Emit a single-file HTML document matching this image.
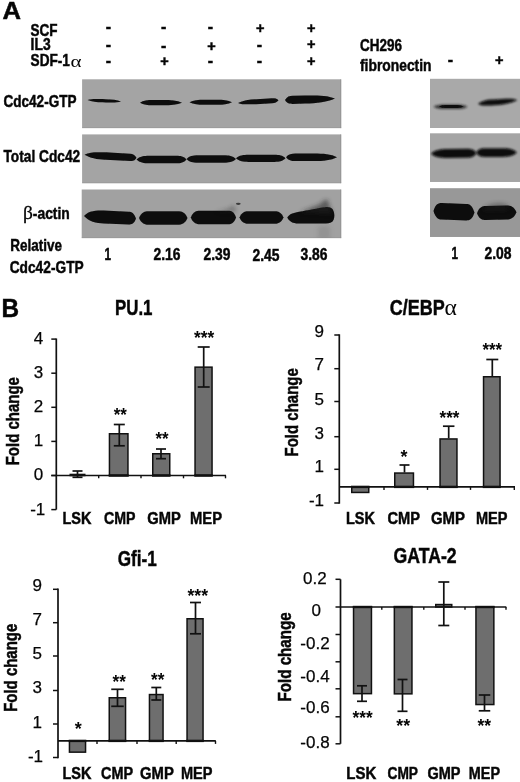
<!DOCTYPE html>
<html lang="en"><head><meta charset="utf-8"><title>Figure</title>
<style>html,body{margin:0;padding:0;background:#fff}svg{display:block}text{font-family:"Liberation Sans","DejaVu Sans",sans-serif;fill:#050505}</style></head>
<body>
<svg width="520" height="782" viewBox="0 0 520 782">
<rect width="520" height="782" fill="#fff"/>
<text x="2.5" y="19.2" font-size="24.6" font-weight="bold" stroke="#0d0d0d" stroke-width="0.5" textLength="18.5" lengthAdjust="spacingAndGlyphs" >A</text>
<text x="30.6" y="35.6" font-size="16.5" font-weight="bold" stroke="#0d0d0d" stroke-width="0.5" textLength="27" lengthAdjust="spacingAndGlyphs" >SCF</text>
<text x="30.6" y="50.4" font-size="16.5" font-weight="bold" stroke="#0d0d0d" stroke-width="0.5" textLength="20" lengthAdjust="spacingAndGlyphs" >IL3</text>
<text x="30.6" y="65.7" font-size="16.5" font-weight="bold" stroke="#0d0d0d" stroke-width="0.5" textLength="39.3" lengthAdjust="spacingAndGlyphs" >SDF-1</text>
<text transform="translate(70.6,67.1) scale(1.2,1)" style="font-family:&quot;Liberation Serif&quot;,&quot;DejaVu Serif&quot;,serif" font-size="17.5">α</text>
<text x="108.5" y="31.6" font-size="16" font-weight="bold" stroke="#0d0d0d" stroke-width="0.5" text-anchor="middle" >-</text>
<text x="163.7" y="32.2" font-size="16" font-weight="bold" stroke="#0d0d0d" stroke-width="0.5" text-anchor="middle" >-</text>
<text x="210.3" y="31.6" font-size="16" font-weight="bold" stroke="#0d0d0d" stroke-width="0.5" text-anchor="middle" >-</text>
<text x="260.2" y="32.9" font-size="14.5" font-weight="bold" stroke="#0d0d0d" stroke-width="0.5" text-anchor="middle" >+</text>
<text x="311.2" y="32.9" font-size="14.5" font-weight="bold" stroke="#0d0d0d" stroke-width="0.5" text-anchor="middle" >+</text>
<text x="108.5" y="49.8" font-size="16" font-weight="bold" stroke="#0d0d0d" stroke-width="0.5" text-anchor="middle" >-</text>
<text x="163.7" y="50.7" font-size="16" font-weight="bold" stroke="#0d0d0d" stroke-width="0.5" text-anchor="middle" >-</text>
<text x="211.4" y="50.5" font-size="14.5" font-weight="bold" stroke="#0d0d0d" stroke-width="0.5" text-anchor="middle" >+</text>
<text x="259.5" y="49.8" font-size="16" font-weight="bold" stroke="#0d0d0d" stroke-width="0.5" text-anchor="middle" >-</text>
<text x="311.2" y="49.0" font-size="14.5" font-weight="bold" stroke="#0d0d0d" stroke-width="0.5" text-anchor="middle" >+</text>
<text x="108.5" y="65.7" font-size="16" font-weight="bold" stroke="#0d0d0d" stroke-width="0.5" text-anchor="middle" >-</text>
<text x="164.4" y="66.0" font-size="14.5" font-weight="bold" stroke="#0d0d0d" stroke-width="0.5" text-anchor="middle" >+</text>
<text x="210.3" y="65.7" font-size="16" font-weight="bold" stroke="#0d0d0d" stroke-width="0.5" text-anchor="middle" >-</text>
<text x="259.5" y="65.7" font-size="16" font-weight="bold" stroke="#0d0d0d" stroke-width="0.5" text-anchor="middle" >-</text>
<text x="311.2" y="65.5" font-size="14.5" font-weight="bold" stroke="#0d0d0d" stroke-width="0.5" text-anchor="middle" >+</text>
<text x="360" y="51" font-size="16.5" font-weight="bold" stroke="#0d0d0d" stroke-width="0.5" textLength="42" lengthAdjust="spacingAndGlyphs" >CH296</text>
<text x="360" y="70.5" font-size="16.5" font-weight="bold" stroke="#0d0d0d" stroke-width="0.5" textLength="71.5" lengthAdjust="spacingAndGlyphs" >fibronectin</text>
<text x="450.3" y="64.9" font-size="16" font-weight="bold" stroke="#0d0d0d" stroke-width="0.5" text-anchor="middle" >-</text>
<text x="499.2" y="65.0" font-size="14.5" font-weight="bold" stroke="#0d0d0d" stroke-width="0.5" text-anchor="middle" >+</text>
<defs>
<clipPath id="c0"><rect x="82.1" y="79.3" width="259.1" height="48.8"/></clipPath>
<clipPath id="c1"><rect x="82.1" y="134.4" width="259.1" height="48.8"/></clipPath>
<clipPath id="c2"><rect x="81.7" y="189.5" width="259.5" height="48.6"/></clipPath>
<clipPath id="c3"><rect x="430" y="78.8" width="90" height="49"/></clipPath>
<clipPath id="c4"><rect x="430" y="133.3" width="90" height="48.5"/></clipPath>
<clipPath id="c5"><rect x="430" y="188.2" width="90" height="48.7"/></clipPath>
<filter id="b0" x="-20%" y="-100%" width="140%" height="300%"><feGaussianBlur stdDeviation="0.6"/></filter>
<filter id="b1" x="-20%" y="-100%" width="140%" height="300%"><feGaussianBlur stdDeviation="0.9"/></filter>
<filter id="b2" x="-20%" y="-100%" width="140%" height="300%"><feGaussianBlur stdDeviation="1.3"/></filter>
<filter id="b3" x="-20%" y="-100%" width="140%" height="300%"><feGaussianBlur stdDeviation="2.2"/></filter>
</defs>
<rect x="82.1" y="79.3" width="259.1" height="48.8" fill="#a4a4a4" />
<rect x="340.2" y="79.3" width="1" height="48.8" fill="#8f8f8f" opacity="0.7"/>
<rect x="82.1" y="127.3" width="259.1" height="0.8" fill="#8f8f8f" opacity="0.5"/>
<rect x="82.1" y="134.4" width="259.1" height="48.8" fill="#a4a4a4" />
<rect x="340.2" y="134.4" width="1" height="48.8" fill="#8f8f8f" opacity="0.7"/>
<rect x="82.1" y="182.4" width="259.1" height="0.8" fill="#8f8f8f" opacity="0.5"/>
<rect x="81.7" y="189.5" width="259.5" height="48.6" fill="#a1a1a1" />
<rect x="340.2" y="189.5" width="1" height="48.6" fill="#8f8f8f" opacity="0.7"/>
<rect x="81.7" y="237.3" width="259.5" height="0.8" fill="#8f8f8f" opacity="0.5"/>
<rect x="430" y="78.8" width="90" height="49" fill="#a9a9a9" />
<rect x="430" y="127.0" width="90" height="0.8" fill="#8f8f8f" opacity="0.5"/>
<rect x="430" y="133.3" width="90" height="48.5" fill="#a5a5a5" />
<rect x="430" y="181.0" width="90" height="0.8" fill="#8f8f8f" opacity="0.5"/>
<rect x="430" y="188.2" width="90" height="48.7" fill="#989898" />
<rect x="430" y="236.1" width="90" height="0.8" fill="#8f8f8f" opacity="0.5"/>
<g clip-path="url(#c0)"><path d="M87.5,100.0 C91.3,98.7 96.5,99.1 102.6,99.1 L105.9,99.3 C112.0,99.3 117.2,100.2 121.0,101.5 C117.2,102.9 112.0,102.5 105.9,102.5 L102.6,102.3 C96.5,102.3 91.3,101.4 87.5,100.0Z" fill="#0c0c0c" filter="url(#b0)" opacity="1"/></g>
<g clip-path="url(#c0)"><path d="M140.0,102.7 C143.2,100.5 147.6,100.1 152.6,100.1 L163.1,100.1 C170.7,100.1 177.3,100.5 182.0,102.7 C177.3,104.9 170.7,105.3 163.1,105.3 L152.6,105.3 C147.6,105.3 143.2,104.9 140.0,102.7Z" fill="#0a0a0a" filter="url(#b0)" opacity="1"/></g>
<g clip-path="url(#c0)"><path d="M189.5,102.2 C193.2,100.1 198.4,99.7 204.4,99.7 L217.1,99.7 C223.1,99.7 228.3,100.1 232.0,102.2 C228.3,104.3 223.1,104.7 217.1,104.7 L204.4,104.7 C198.4,104.7 193.2,104.3 189.5,102.2Z" fill="#0a0a0a" filter="url(#b0)" opacity="1"/></g>
<g clip-path="url(#c0)"><path d="M238.0,102.9 C242.6,100.8 248.9,99.2 256.2,99.2 L272.4,98.2 C274.9,98.2 277.0,98.2 278.5,100.3 C277.0,102.4 274.9,103.2 272.4,103.2 L256.2,104.2 C248.9,104.2 242.6,105.0 238.0,102.9Z" fill="#0a0a0a" filter="url(#b0)" opacity="1"/></g>
<g clip-path="url(#c0)"><path d="M285.0,100.0 C286.9,96.6 289.5,95.7 292.5,95.7 L305.0,95.4 C317.0,95.4 327.5,95.1 335.0,98.5 C327.5,102.0 317.0,103.5 305.0,103.5 L292.5,103.9 C289.5,103.9 286.9,103.5 285.0,100.0Z" fill="#0a0a0a" filter="url(#b0)" opacity="1"/></g>
<g clip-path="url(#c1)"><path d="M84.5,154.8 C89.7,151.7 97.0,152.3 105.3,152.3 L130.3,153.7 C132.8,153.7 134.9,154.7 136.5,157.8 C134.9,160.9 132.8,161.1 130.3,161.1 L105.3,159.7 C97.0,159.7 89.7,157.9 84.5,154.8Z" fill="#0a0a0a" filter="url(#b0)" opacity="1"/></g>
<g clip-path="url(#c1)"><path d="M136.5,159.5 C139.6,156.3 144.0,155.7 149.0,155.7 L176.5,155.7 C180.5,155.7 184.0,156.3 186.5,159.5 C184.0,162.7 180.5,163.3 176.5,163.3 L149.0,163.3 C144.0,163.3 139.6,162.7 136.5,159.5Z" fill="#0a0a0a" filter="url(#b0)" opacity="1"/></g>
<g clip-path="url(#c1)"><path d="M186.5,159.0 C189.2,155.9 193.0,155.3 197.4,155.3 L223.6,155.3 C228.6,155.3 232.9,155.9 236.0,159.0 C232.9,162.1 228.6,162.7 223.6,162.7 L197.4,162.7 C193.0,162.7 189.2,162.1 186.5,159.0Z" fill="#0a0a0a" filter="url(#b0)" opacity="1"/></g>
<g clip-path="url(#c1)"><path d="M236.0,158.3 C239.1,155.2 243.4,154.7 248.4,154.7 L274.6,154.7 C279.0,154.7 282.8,155.2 285.5,158.3 C282.8,161.4 279.0,161.9 274.6,161.9 L248.4,161.9 C243.4,161.9 239.1,161.4 236.0,158.3Z" fill="#0a0a0a" filter="url(#b0)" opacity="1"/></g>
<g clip-path="url(#c1)"><path d="M286.0,157.2 C288.3,154.0 291.5,153.4 295.2,153.4 L314.1,153.4 C323.2,153.4 331.3,154.0 337.0,157.2 C331.3,160.4 323.2,161.0 314.1,161.0 L295.2,161.0 C291.5,161.0 288.3,160.4 286.0,157.2Z" fill="#0a0a0a" filter="url(#b0)" opacity="1"/></g>
<g clip-path="url(#c2)"><path d="M84.0,216.1 C88.9,210.6 95.9,210.6 103.8,210.6 L128.7,211.8 C131.6,211.8 134.2,213.1 136.0,218.6 C134.2,224.0 131.6,224.6 128.7,224.6 L103.8,223.4 C95.9,223.4 88.9,221.5 84.0,216.1Z" fill="#0a0a0a" filter="url(#b0)" opacity="1"/></g>
<g clip-path="url(#c2)"><path d="M139.0,218.0 C141.4,212.3 144.8,211.3 148.7,211.3 L177.8,211.3 C181.7,211.3 185.1,212.3 187.5,218.0 C185.1,223.7 181.7,224.7 177.8,224.7 L148.7,224.7 C144.8,224.7 141.4,223.7 139.0,218.0Z" fill="#0a0a0a" filter="url(#b0)" opacity="1"/></g>
<g clip-path="url(#c2)"><path d="M190.8,217.5 C193.1,211.8 196.2,210.8 199.8,210.8 L228.3,210.8 C231.4,210.8 234.1,211.8 236.0,217.5 C234.1,223.2 231.4,224.2 228.3,224.2 L199.8,224.2 C196.2,224.2 193.1,223.2 190.8,217.5Z" fill="#0a0a0a" filter="url(#b0)" opacity="1"/></g>
<g clip-path="url(#c2)"><path d="M239.5,217.5 C241.7,212.3 244.8,211.3 248.3,211.3 L274.7,211.3 C278.2,211.3 281.3,212.3 283.5,217.5 C281.3,222.7 278.2,223.7 274.7,223.7 L248.3,223.7 C244.8,223.7 241.7,222.7 239.5,217.5Z" fill="#0a0a0a" filter="url(#b0)" opacity="1"/></g>
<g clip-path="url(#c2)"><path d="M287.3,217.6 C289,214.5 293,212.8 299,211.8 C308,210.2 318,208 325,207.2 C329,206.8 332,207.6 333.3,210.5 C334.6,213.5 334.8,217 333.6,219.8 C332.6,222.3 330,223.5 326,223.6 L298,223.6 C293,223.6 289,221.5 287.3,217.6Z" fill="#0a0a0a" filter="url(#b0)"/></g>
<g clip-path="url(#c2)" filter="url(#b3)" opacity="0.55"><path d="M300,212 C312,207 322,205 324,200 L328,200 C329,206 331,210 333,214 Z" fill="#222"/></g>
<g clip-path="url(#c2)" filter="url(#b3)" opacity="0.35"><path d="M215,212 C224,210 230,209 234,205 L236,212 Z" fill="#222"/><rect x="318" y="226" width="12" height="14" fill="#7a7a7a"/></g>
<g clip-path="url(#c2)" filter="url(#b0)"><ellipse cx="238.3" cy="203.8" rx="2.4" ry="1.1" fill="#3a3a3a"/></g>
<g clip-path="url(#c3)"><path d="M433.5,106.7 C436.5,104.7 440.6,104.4 445.4,104.4 L455.6,104.4 C460.4,104.4 464.5,104.7 467.5,106.7 C464.5,108.7 460.4,109.0 455.6,109.0 L445.4,109.0 C440.6,109.0 436.5,108.7 433.5,106.7Z" fill="#222" filter="url(#b2)" opacity="0.85"/></g>
<g clip-path="url(#c3)"><path d="M439.0,106.6 C441.1,105.3 444.1,105.1 447.6,105.1 L454.9,105.1 C458.4,105.1 461.4,105.3 463.5,106.6 C461.4,107.9 458.4,108.1 454.9,108.1 L447.6,108.1 C444.1,108.1 441.1,107.9 439.0,106.6Z" fill="#0a0a0a" filter="url(#b0)" opacity="1"/></g>
<g clip-path="url(#c3)"><path d="M478.0,103.8 C481.5,101.3 486.3,99.6 491.8,99.6 L493.8,99.5 C503.3,99.5 511.6,97.7 517.5,100.2 C511.6,102.7 503.3,105.3 493.8,105.3 L491.8,105.4 C486.3,105.4 481.5,106.3 478.0,103.8Z" fill="#0a0a0a" filter="url(#b1)" opacity="1"/></g>
<g clip-path="url(#c4)"><path d="M431.0,153.7 C435.0,149.9 440.6,149.1 446.9,149.1 L467.4,148.8 C471.0,148.8 474.2,149.4 476.5,153.2 C474.2,156.9 471.0,157.7 467.4,157.7 L446.9,157.9 C440.6,157.9 435.0,157.4 431.0,153.7Z" fill="#0a0a0a" filter="url(#b1)" opacity="1"/></g>
<g clip-path="url(#c4)"><path d="M476.0,152.6 C478.1,148.9 480.9,148.2 484.2,148.2 L502.6,148.2 C508.4,148.2 513.4,148.9 517.0,152.6 C513.4,156.3 508.4,157.0 502.6,157.0 L484.2,157.0 C480.9,157.0 478.1,156.3 476.0,152.6Z" fill="#0a0a0a" filter="url(#b1)" opacity="1"/></g>
<g clip-path="url(#c5)"><path d="M433.5,211.1 C435.6,204.0 438.4,203.1 441.7,203.1 L466.3,204.0 C469.6,204.0 472.4,205.5 474.5,212.6 C472.4,219.6 469.6,220.5 466.3,220.5 L441.7,219.6 C438.4,219.6 435.6,218.1 433.5,211.1Z" fill="#0a0a0a" filter="url(#b0)" opacity="1"/></g>
<g clip-path="url(#c5)"><path d="M477.0,213.3 C479.2,207.4 482.2,206.1 485.7,206.1 L506.6,205.6 C510.6,205.6 514.0,206.4 516.5,212.3 C514.0,218.2 510.6,219.6 506.6,219.6 L485.7,220.1 C482.2,220.1 479.2,219.2 477.0,213.3Z" fill="#0a0a0a" filter="url(#b0)" opacity="1"/></g>
<g clip-path="url(#c5)" filter="url(#b3)" opacity="0.4"><path d="M484,208 C490,203 500,202 508,205 L508,210 L484,211 Z" fill="#222"/></g>
<text x="3.5" y="106.7" font-size="17.3" font-weight="bold" stroke="#0d0d0d" stroke-width="0.5" textLength="73" lengthAdjust="spacingAndGlyphs" >Cdc42-GTP</text>
<text x="3.5" y="162.3" font-size="17.3" font-weight="bold" stroke="#0d0d0d" stroke-width="0.5" textLength="76.7" lengthAdjust="spacingAndGlyphs" >Total Cdc42</text>
<text x="22.9" y="219" font-size="17.3" font-weight="bold" stroke="#0d0d0d" stroke-width="0.5"><tspan font-family="'Liberation Serif','DejaVu Serif',serif" font-weight="normal" stroke-width="0.3" font-size="19.5">β</tspan><tspan textLength="37" lengthAdjust="spacingAndGlyphs">-actin</tspan></text>
<text x="10.3" y="251" font-size="17.3" font-weight="bold" stroke="#0d0d0d" stroke-width="0.5" textLength="51.7" lengthAdjust="spacingAndGlyphs" >Relative</text>
<text x="9.7" y="272.5" font-size="17.3" font-weight="bold" stroke="#0d0d0d" stroke-width="0.5" textLength="74" lengthAdjust="spacingAndGlyphs" >Cdc42-GTP</text>
<text x="104.5" y="259.8" font-size="16.6" font-weight="bold" stroke="#0d0d0d" stroke-width="0.5" textLength="6.5" lengthAdjust="spacingAndGlyphs" >1</text>
<text x="153.5" y="259.8" font-size="16.6" font-weight="bold" stroke="#0d0d0d" stroke-width="0.5" textLength="27" lengthAdjust="spacingAndGlyphs" >2.16</text>
<text x="203.5" y="259.8" font-size="16.6" font-weight="bold" stroke="#0d0d0d" stroke-width="0.5" textLength="27" lengthAdjust="spacingAndGlyphs" >2.39</text>
<text x="252.5" y="260.90000000000003" font-size="16.6" font-weight="bold" stroke="#0d0d0d" stroke-width="0.5" textLength="27" lengthAdjust="spacingAndGlyphs" >2.45</text>
<text x="300.5" y="259.8" font-size="16.6" font-weight="bold" stroke="#0d0d0d" stroke-width="0.5" textLength="27" lengthAdjust="spacingAndGlyphs" >3.86</text>
<text x="451.5" y="258.5" font-size="16.6" font-weight="bold" stroke="#0d0d0d" stroke-width="0.5" textLength="6.5" lengthAdjust="spacingAndGlyphs" >1</text>
<text x="484.5" y="258.5" font-size="16.6" font-weight="bold" stroke="#0d0d0d" stroke-width="0.5" textLength="27" lengthAdjust="spacingAndGlyphs" >2.08</text>
<text x="1.4" y="317.1" font-size="26.6" font-weight="bold" stroke="#0d0d0d" stroke-width="0.5" textLength="17.6" lengthAdjust="spacingAndGlyphs" >B</text>
<text x="115" y="315.2" font-size="22" font-weight="bold" stroke="#0d0d0d" stroke-width="0.5" textLength="37.5" lengthAdjust="spacingAndGlyphs" >PU.1</text>
<line x1="56.3" y1="338.5" x2="56.3" y2="509.6" stroke="#111" stroke-width="1.7"/>
<line x1="51.3" y1="339.1" x2="56.3" y2="339.1" stroke="#111" stroke-width="1.5"/>
<text x="43.3" y="344.0" font-size="17" stroke="#0a0a0a" stroke-width="0.25" text-anchor="end" >4</text>
<line x1="51.3" y1="373.2" x2="56.3" y2="373.2" stroke="#111" stroke-width="1.5"/>
<text x="43.3" y="378.1" font-size="17" stroke="#0a0a0a" stroke-width="0.25" text-anchor="end" >3</text>
<line x1="51.3" y1="407.3" x2="56.3" y2="407.3" stroke="#111" stroke-width="1.5"/>
<text x="43.3" y="412.2" font-size="17" stroke="#0a0a0a" stroke-width="0.25" text-anchor="end" >2</text>
<line x1="51.3" y1="441.4" x2="56.3" y2="441.4" stroke="#111" stroke-width="1.5"/>
<text x="43.3" y="446.3" font-size="17" stroke="#0a0a0a" stroke-width="0.25" text-anchor="end" >1</text>
<line x1="51.3" y1="475.5" x2="56.3" y2="475.5" stroke="#111" stroke-width="1.5"/>
<text x="43.3" y="480.4" font-size="17" stroke="#0a0a0a" stroke-width="0.25" text-anchor="end" >0</text>
<line x1="51.3" y1="509.6" x2="56.3" y2="509.6" stroke="#111" stroke-width="1.5"/>
<text x="45.3" y="514.5" font-size="17" stroke="#0a0a0a" stroke-width="0.25" text-anchor="end" >-1</text>
<rect x="70.25" y="474.45" width="14.5" height="1.05" fill="#6e6e6e" stroke="#111" stroke-width="1.5" />
<rect x="109.45" y="433.75" width="18.5" height="41.75" fill="#6e6e6e" stroke="#111" stroke-width="1.5" />
<rect x="108.7" y="474.3" width="20.0" height="2.4" fill="#111" />
<rect x="152.75" y="453.75" width="17.0" height="21.75" fill="#6e6e6e" stroke="#111" stroke-width="1.5" />
<rect x="152" y="474.3" width="18.5" height="2.4" fill="#111" />
<rect x="195.05" y="367.15" width="17.0" height="108.35" fill="#6e6e6e" stroke="#111" stroke-width="1.5" />
<rect x="194.3" y="474.3" width="18.5" height="2.4" fill="#111" />
<line x1="51.3" y1="475.5" x2="226" y2="475.5" stroke="#111" stroke-width="1.7"/>
<line x1="98.7" y1="475.5" x2="98.7" y2="478.3" stroke="#111" stroke-width="1.4"/>
<line x1="141" y1="475.5" x2="141" y2="478.3" stroke="#111" stroke-width="1.4"/>
<line x1="183.5" y1="475.5" x2="183.5" y2="478.3" stroke="#111" stroke-width="1.4"/>
<line x1="225.5" y1="475.5" x2="225.5" y2="478.3" stroke="#111" stroke-width="1.4"/>
<line x1="77.5" y1="471" x2="77.5" y2="477.3" stroke="#111" stroke-width="1.7"/>
<line x1="72.5" y1="471" x2="82.5" y2="471" stroke="#111" stroke-width="1.7"/>
<line x1="72.5" y1="477.3" x2="82.5" y2="477.3" stroke="#111" stroke-width="1.7"/>
<line x1="119.3" y1="424.5" x2="119.3" y2="445.8" stroke="#111" stroke-width="1.7"/>
<line x1="113.8" y1="424.5" x2="124.8" y2="424.5" stroke="#111" stroke-width="1.7"/>
<line x1="113.8" y1="445.8" x2="124.8" y2="445.8" stroke="#111" stroke-width="1.7"/>
<line x1="161" y1="449" x2="161" y2="458.7" stroke="#111" stroke-width="1.7"/>
<line x1="156.0" y1="449" x2="166.0" y2="449" stroke="#111" stroke-width="1.7"/>
<line x1="156.0" y1="458.7" x2="166.0" y2="458.7" stroke="#111" stroke-width="1.7"/>
<line x1="203.7" y1="347" x2="203.7" y2="387" stroke="#111" stroke-width="1.7"/>
<line x1="197.7" y1="347" x2="209.7" y2="347" stroke="#111" stroke-width="1.7"/>
<line x1="197.7" y1="387" x2="209.7" y2="387" stroke="#111" stroke-width="1.7"/>
<text x="113.7" y="421.3" font-size="18.5" font-weight="bold" textLength="13.1" lengthAdjust="spacingAndGlyphs" >**</text>
<text x="155.5" y="444.6" font-size="18.5" font-weight="bold" textLength="13.1" lengthAdjust="spacingAndGlyphs" >**</text>
<text x="194.1" y="344.0" font-size="18.5" font-weight="bold" textLength="20.3" lengthAdjust="spacingAndGlyphs" >***</text>
<text x="62.5" y="524.3" font-size="17.4" font-weight="bold" stroke="#0d0d0d" stroke-width="0.5" textLength="29" lengthAdjust="spacingAndGlyphs" >LSK</text>
<text x="104" y="524.3" font-size="17.4" font-weight="bold" stroke="#0d0d0d" stroke-width="0.5" textLength="31.5" lengthAdjust="spacingAndGlyphs" >CMP</text>
<text x="147.3" y="524.3" font-size="17.4" font-weight="bold" stroke="#0d0d0d" stroke-width="0.5" textLength="33.5" lengthAdjust="spacingAndGlyphs" >GMP</text>
<text x="190" y="524.3" font-size="17.4" font-weight="bold" stroke="#0d0d0d" stroke-width="0.5" textLength="32" lengthAdjust="spacingAndGlyphs" >MEP</text>
<text transform="translate(19.3,421.2) rotate(-90)" text-anchor="middle" font-size="18.3" font-weight="bold" stroke="#0d0d0d" stroke-width="0.5" textLength="88.3" lengthAdjust="spacingAndGlyphs">Fold change</text>
<text x="389.7" y="314.7" font-size="21.8" font-weight="bold" stroke="#0d0d0d" stroke-width="0.5" textLength="55" lengthAdjust="spacingAndGlyphs" >C/EBP</text>
<text transform="translate(444.6,315) scale(0.98,1)" style="font-family:&quot;Liberation Serif&quot;,&quot;DejaVu Serif&quot;,serif" font-size="24">α</text>
<line x1="339.3" y1="334.3" x2="339.3" y2="503.7" stroke="#111" stroke-width="1.7"/>
<line x1="334.3" y1="335" x2="339.3" y2="335" stroke="#111" stroke-width="1.5"/>
<text x="324" y="336.7" font-size="17" stroke="#0a0a0a" stroke-width="0.25" text-anchor="end" >9</text>
<line x1="334.3" y1="368.7" x2="339.3" y2="368.7" stroke="#111" stroke-width="1.5"/>
<text x="324" y="370.2" font-size="17" stroke="#0a0a0a" stroke-width="0.25" text-anchor="end" >7</text>
<line x1="334.3" y1="401.5" x2="339.3" y2="401.5" stroke="#111" stroke-width="1.5"/>
<text x="324" y="404.5" font-size="17" stroke="#0a0a0a" stroke-width="0.25" text-anchor="end" >5</text>
<line x1="334.3" y1="436.7" x2="339.3" y2="436.7" stroke="#111" stroke-width="1.5"/>
<text x="324" y="438.5" font-size="17" stroke="#0a0a0a" stroke-width="0.25" text-anchor="end" >3</text>
<line x1="334.3" y1="469.3" x2="339.3" y2="469.3" stroke="#111" stroke-width="1.5"/>
<text x="324" y="472.2" font-size="17" stroke="#0a0a0a" stroke-width="0.25" text-anchor="end" >1</text>
<line x1="334.3" y1="503" x2="339.3" y2="503" stroke="#111" stroke-width="1.5"/>
<text x="324" y="506.0" font-size="17" stroke="#0a0a0a" stroke-width="0.25" text-anchor="end" >-1</text>
<rect x="351.75" y="486.9" width="17.0" height="5.55" fill="#6e6e6e" stroke="#111" stroke-width="1.5" />
<rect x="351" y="485.7" width="18.5" height="2.4" fill="#111" />
<rect x="394.75" y="473.05" width="18.7" height="13.85" fill="#6e6e6e" stroke="#111" stroke-width="1.5" />
<rect x="394" y="485.7" width="20.2" height="2.4" fill="#111" />
<rect x="440.05" y="438.95" width="16.9" height="47.95" fill="#6e6e6e" stroke="#111" stroke-width="1.5" />
<rect x="439.3" y="485.7" width="18.4" height="2.4" fill="#111" />
<rect x="483.55" y="376.75" width="16.5" height="110.15" fill="#6e6e6e" stroke="#111" stroke-width="1.5" />
<rect x="482.8" y="485.7" width="18.0" height="2.4" fill="#111" />
<line x1="339.3" y1="486.9" x2="515" y2="486.9" stroke="#111" stroke-width="1.7"/>
<line x1="384" y1="486.9" x2="384" y2="489.9" stroke="#111" stroke-width="1.4"/>
<line x1="427.5" y1="486.9" x2="427.5" y2="489.9" stroke="#111" stroke-width="1.4"/>
<line x1="470.5" y1="486.9" x2="470.5" y2="489.9" stroke="#111" stroke-width="1.4"/>
<line x1="514.3" y1="486.9" x2="514.3" y2="489.9" stroke="#111" stroke-width="1.4"/>
<line x1="404.5" y1="465" x2="404.5" y2="472.5" stroke="#111" stroke-width="1.7"/>
<line x1="399.5" y1="465" x2="409.5" y2="465" stroke="#111" stroke-width="1.7"/>
<line x1="448.7" y1="426.2" x2="448.7" y2="438.3" stroke="#111" stroke-width="1.7"/>
<line x1="442.95" y1="426.2" x2="454.45" y2="426.2" stroke="#111" stroke-width="1.7"/>
<line x1="492.3" y1="359.5" x2="492.3" y2="376.3" stroke="#111" stroke-width="1.7"/>
<line x1="486.3" y1="359.5" x2="498.3" y2="359.5" stroke="#111" stroke-width="1.7"/>
<text x="400.6" y="462.8" font-size="18.5" font-weight="bold" textLength="7.0" lengthAdjust="spacingAndGlyphs" >*</text>
<text x="439.5" y="424.3" font-size="18.5" font-weight="bold" textLength="19.9" lengthAdjust="spacingAndGlyphs" >***</text>
<text x="482.5" y="355.8" font-size="18.5" font-weight="bold" textLength="19.6" lengthAdjust="spacingAndGlyphs" >***</text>
<text x="346" y="524" font-size="17.4" font-weight="bold" stroke="#0d0d0d" stroke-width="0.5" textLength="29" lengthAdjust="spacingAndGlyphs" >LSK</text>
<text x="387.5" y="524" font-size="17.4" font-weight="bold" stroke="#0d0d0d" stroke-width="0.5" textLength="32.5" lengthAdjust="spacingAndGlyphs" >CMP</text>
<text x="431" y="524" font-size="17.4" font-weight="bold" stroke="#0d0d0d" stroke-width="0.5" textLength="34" lengthAdjust="spacingAndGlyphs" >GMP</text>
<text x="476" y="524" font-size="17.4" font-weight="bold" stroke="#0d0d0d" stroke-width="0.5" textLength="31.5" lengthAdjust="spacingAndGlyphs" >MEP</text>
<text transform="translate(298.1,412.3) rotate(-90)" text-anchor="middle" font-size="18.3" font-weight="bold" stroke="#0d0d0d" stroke-width="0.5" textLength="88.3" lengthAdjust="spacingAndGlyphs">Fold change</text>
<text x="117.7" y="566.3" font-size="22" font-weight="bold" stroke="#0d0d0d" stroke-width="0.5" textLength="39" lengthAdjust="spacingAndGlyphs" >Gfi-1</text>
<line x1="58" y1="588.6" x2="58" y2="758.2" stroke="#111" stroke-width="1.7"/>
<line x1="53" y1="589.3" x2="58" y2="589.3" stroke="#111" stroke-width="1.5"/>
<text x="42" y="591.2" font-size="17" stroke="#0a0a0a" stroke-width="0.25" text-anchor="end" >9</text>
<line x1="53" y1="622.7" x2="58" y2="622.7" stroke="#111" stroke-width="1.5"/>
<text x="42" y="625.2" font-size="17" stroke="#0a0a0a" stroke-width="0.25" text-anchor="end" >7</text>
<line x1="53" y1="656" x2="58" y2="656" stroke="#111" stroke-width="1.5"/>
<text x="42" y="659.2" font-size="17" stroke="#0a0a0a" stroke-width="0.25" text-anchor="end" >5</text>
<line x1="53" y1="690.5" x2="58" y2="690.5" stroke="#111" stroke-width="1.5"/>
<text x="42" y="693" font-size="17" stroke="#0a0a0a" stroke-width="0.25" text-anchor="end" >3</text>
<line x1="53" y1="724" x2="58" y2="724" stroke="#111" stroke-width="1.5"/>
<text x="42" y="727.7" font-size="17" stroke="#0a0a0a" stroke-width="0.25" text-anchor="end" >1</text>
<line x1="53" y1="757.5" x2="58" y2="757.5" stroke="#111" stroke-width="1.5"/>
<text x="43" y="761.7" font-size="17" stroke="#0a0a0a" stroke-width="0.25" text-anchor="end" >-1</text>
<rect x="69.45" y="740.9" width="16.1" height="11.25" fill="#6e6e6e" stroke="#111" stroke-width="1.5" />
<rect x="68.7" y="739.7" width="17.6" height="2.4" fill="#111" />
<rect x="109.25" y="697.75" width="16.3" height="43.15" fill="#6e6e6e" stroke="#111" stroke-width="1.5" />
<rect x="108.5" y="739.7" width="17.8" height="2.4" fill="#111" />
<rect x="149.45" y="694.55" width="13.6" height="46.35" fill="#6e6e6e" stroke="#111" stroke-width="1.5" />
<rect x="148.7" y="739.7" width="15.1" height="2.4" fill="#111" />
<rect x="187.05" y="618.75" width="16.0" height="122.15" fill="#6e6e6e" stroke="#111" stroke-width="1.5" />
<rect x="186.3" y="739.7" width="17.5" height="2.4" fill="#111" />
<line x1="58" y1="740.9" x2="215.8" y2="740.9" stroke="#111" stroke-width="1.7"/>
<line x1="97" y1="740.9" x2="97" y2="743.9" stroke="#111" stroke-width="1.4"/>
<line x1="137" y1="740.9" x2="137" y2="743.9" stroke="#111" stroke-width="1.4"/>
<line x1="176.2" y1="740.9" x2="176.2" y2="743.9" stroke="#111" stroke-width="1.4"/>
<line x1="215.5" y1="740.9" x2="215.5" y2="743.9" stroke="#111" stroke-width="1.4"/>
<line x1="117.5" y1="689.3" x2="117.5" y2="706.3" stroke="#111" stroke-width="1.7"/>
<line x1="111.25" y1="689.3" x2="123.75" y2="689.3" stroke="#111" stroke-width="1.7"/>
<line x1="111.25" y1="706.3" x2="123.75" y2="706.3" stroke="#111" stroke-width="1.7"/>
<line x1="156.3" y1="687.5" x2="156.3" y2="700" stroke="#111" stroke-width="1.7"/>
<line x1="151.3" y1="687.5" x2="161.3" y2="687.5" stroke="#111" stroke-width="1.7"/>
<line x1="151.3" y1="700" x2="161.3" y2="700" stroke="#111" stroke-width="1.7"/>
<line x1="195.5" y1="602.5" x2="195.5" y2="633.8" stroke="#111" stroke-width="1.7"/>
<line x1="190.0" y1="602.5" x2="201.0" y2="602.5" stroke="#111" stroke-width="1.7"/>
<line x1="190.0" y1="633.8" x2="201.0" y2="633.8" stroke="#111" stroke-width="1.7"/>
<text x="74.8" y="735.1" font-size="18.5" font-weight="bold" textLength="7.0" lengthAdjust="spacingAndGlyphs" >*</text>
<text x="112.5" y="687.5" font-size="18.5" font-weight="bold" textLength="13.3" lengthAdjust="spacingAndGlyphs" >**</text>
<text x="151" y="686.0" font-size="18.5" font-weight="bold" textLength="13.4" lengthAdjust="spacingAndGlyphs" >**</text>
<text x="187.5" y="602.1" font-size="18.5" font-weight="bold" textLength="20.6" lengthAdjust="spacingAndGlyphs" >***</text>
<text x="62.5" y="778.8" font-size="17.4" font-weight="bold" stroke="#0d0d0d" stroke-width="0.5" textLength="29" lengthAdjust="spacingAndGlyphs" >LSK</text>
<text x="101" y="778.8" font-size="17.4" font-weight="bold" stroke="#0d0d0d" stroke-width="0.5" textLength="32" lengthAdjust="spacingAndGlyphs" >CMP</text>
<text x="140" y="778.8" font-size="17.4" font-weight="bold" stroke="#0d0d0d" stroke-width="0.5" textLength="33.8" lengthAdjust="spacingAndGlyphs" >GMP</text>
<text x="181" y="778.8" font-size="17.4" font-weight="bold" stroke="#0d0d0d" stroke-width="0.5" textLength="31.5" lengthAdjust="spacingAndGlyphs" >MEP</text>
<text transform="translate(17.4,667.8) rotate(-90)" text-anchor="middle" font-size="17.6" font-weight="bold" stroke="#0d0d0d" stroke-width="0.5" textLength="88" lengthAdjust="spacingAndGlyphs">Fold change</text>
<text x="393.6" y="562.7" font-size="22" font-weight="bold" stroke="#0d0d0d" stroke-width="0.5" textLength="63" lengthAdjust="spacingAndGlyphs" >GATA-2</text>
<line x1="340.5" y1="579.3" x2="340.5" y2="743.8" stroke="#111" stroke-width="1.7"/>
<line x1="335.5" y1="579.3" x2="340.5" y2="579.3" stroke="#111" stroke-width="1.5"/>
<line x1="335.5" y1="634.5" x2="340.5" y2="634.5" stroke="#111" stroke-width="1.5"/>
<line x1="335.5" y1="661.8" x2="340.5" y2="661.8" stroke="#111" stroke-width="1.5"/>
<line x1="335.5" y1="688.8" x2="340.5" y2="688.8" stroke="#111" stroke-width="1.5"/>
<line x1="335.5" y1="716.8" x2="340.5" y2="716.8" stroke="#111" stroke-width="1.5"/>
<line x1="335.5" y1="743.8" x2="340.5" y2="743.8" stroke="#111" stroke-width="1.5"/>
<text x="326.6" y="583.9" font-size="17" stroke="#0a0a0a" stroke-width="0.25" text-anchor="end" >0.2</text>
<text x="320.9" y="616.4" font-size="17" stroke="#0a0a0a" stroke-width="0.25" text-anchor="end" >0</text>
<text x="329.6" y="649.3" font-size="17" stroke="#0a0a0a" stroke-width="0.25" text-anchor="end" >-0.2</text>
<text x="329.6" y="681.9" font-size="17" stroke="#0a0a0a" stroke-width="0.25" text-anchor="end" >-0.4</text>
<text x="329.6" y="713.4" font-size="17" stroke="#0a0a0a" stroke-width="0.25" text-anchor="end" >-0.6</text>
<text x="329.6" y="748" font-size="17" stroke="#0a0a0a" stroke-width="0.25" text-anchor="end" >-0.8</text>
<rect x="353.55" y="607" width="17.9" height="86.65" fill="#6e6e6e" stroke="#111" stroke-width="1.5" />
<rect x="352.8" y="605.8" width="19.4" height="2.4" fill="#111" />
<rect x="394.35" y="607" width="17.6" height="86.85" fill="#6e6e6e" stroke="#111" stroke-width="1.5" />
<rect x="393.6" y="605.8" width="19.1" height="2.4" fill="#111" />
<rect x="435.75" y="604.55" width="16.0" height="2.45" fill="#6e6e6e" stroke="#111" stroke-width="1.5" />
<rect x="475.95" y="607" width="17.9" height="97.55" fill="#6e6e6e" stroke="#111" stroke-width="1.5" />
<rect x="475.2" y="605.8" width="19.4" height="2.4" fill="#111" />
<line x1="335.5" y1="607" x2="506.3" y2="607" stroke="#111" stroke-width="1.7"/>
<line x1="381.8" y1="607" x2="381.8" y2="609.8" stroke="#111" stroke-width="1.4"/>
<line x1="423.8" y1="607" x2="423.8" y2="609.8" stroke="#111" stroke-width="1.4"/>
<line x1="465" y1="607" x2="465" y2="609.8" stroke="#111" stroke-width="1.4"/>
<line x1="506" y1="607" x2="506" y2="609.8" stroke="#111" stroke-width="1.4"/>
<line x1="362" y1="685.8" x2="362" y2="701.3" stroke="#111" stroke-width="1.7"/>
<line x1="357.0" y1="685.8" x2="367.0" y2="685.8" stroke="#111" stroke-width="1.7"/>
<line x1="357.0" y1="701.3" x2="367.0" y2="701.3" stroke="#111" stroke-width="1.7"/>
<line x1="402.5" y1="679.5" x2="402.5" y2="711.3" stroke="#111" stroke-width="1.7"/>
<line x1="397.5" y1="679.5" x2="407.5" y2="679.5" stroke="#111" stroke-width="1.7"/>
<line x1="397.5" y1="711.3" x2="407.5" y2="711.3" stroke="#111" stroke-width="1.7"/>
<line x1="443.8" y1="582" x2="443.8" y2="625.5" stroke="#111" stroke-width="1.7"/>
<line x1="438.3" y1="582" x2="449.3" y2="582" stroke="#111" stroke-width="1.7"/>
<line x1="438.3" y1="625.5" x2="449.3" y2="625.5" stroke="#111" stroke-width="1.7"/>
<line x1="484.5" y1="695" x2="484.5" y2="710.8" stroke="#111" stroke-width="1.7"/>
<line x1="478.75" y1="695" x2="490.25" y2="695" stroke="#111" stroke-width="1.7"/>
<line x1="478.75" y1="710.8" x2="490.25" y2="710.8" stroke="#111" stroke-width="1.7"/>
<text x="352.5" y="724.3" font-size="18.5" font-weight="bold" textLength="20.1" lengthAdjust="spacingAndGlyphs" >***</text>
<text x="396.3" y="731.6" font-size="18.5" font-weight="bold" textLength="13.8" lengthAdjust="spacingAndGlyphs" >**</text>
<text x="477.5" y="732.4" font-size="18.5" font-weight="bold" textLength="13.6" lengthAdjust="spacingAndGlyphs" >**</text>
<text x="346.3" y="778.8" font-size="17.4" font-weight="bold" stroke="#0d0d0d" stroke-width="0.5" textLength="30" lengthAdjust="spacingAndGlyphs" >LSK</text>
<text x="387.5" y="778.8" font-size="17.4" font-weight="bold" stroke="#0d0d0d" stroke-width="0.5" textLength="30.5" lengthAdjust="spacingAndGlyphs" >CMP</text>
<text x="427.5" y="778.8" font-size="17.4" font-weight="bold" stroke="#0d0d0d" stroke-width="0.5" textLength="33" lengthAdjust="spacingAndGlyphs" >GMP</text>
<text x="468.8" y="778.8" font-size="17.4" font-weight="bold" stroke="#0d0d0d" stroke-width="0.5" textLength="31.2" lengthAdjust="spacingAndGlyphs" >MEP</text>
<text transform="translate(291,656.9) rotate(-90)" text-anchor="middle" font-size="18.3" font-weight="bold" stroke="#0d0d0d" stroke-width="0.5" textLength="89.3" lengthAdjust="spacingAndGlyphs">Fold change</text>
</svg>
</body></html>
